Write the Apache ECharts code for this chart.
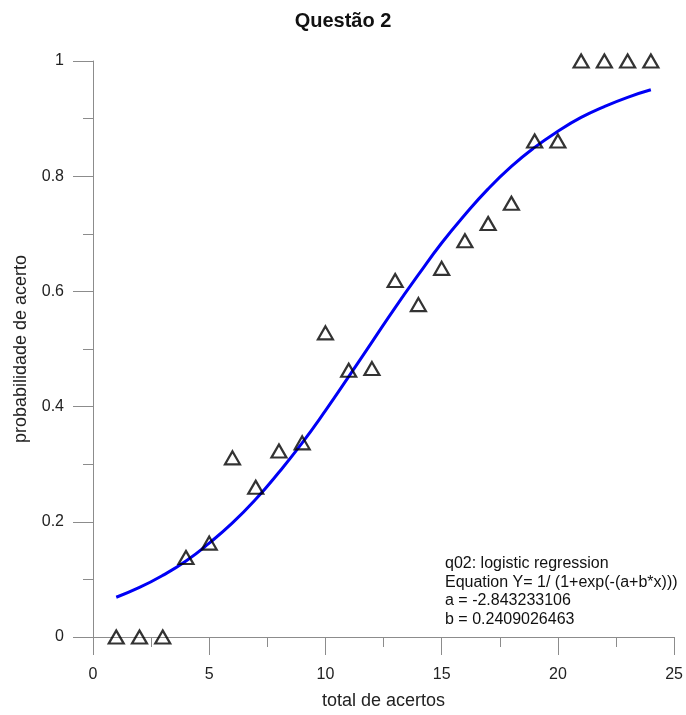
<!DOCTYPE html>
<html>
<head>
<meta charset="utf-8">
<script src="https://cdn.jsdelivr.net/npm/echarts@6/dist/echarts.min.js"></script>
<style>
html,body{margin:0;padding:0;background:#fff;}
#chart{width:686px;height:715px;}
</style>
</head>
<body>
<div id="chart"></div>
<script>
// Observed proportions (triangles)
const obsX = [1,2,3,4,5,6,7,8,9,10,11,12,13,14,15,16,17,18,19,20,21,22,23,24];
const obsY = [0,0,0,0.138,0.163,0.311,0.260,0.323,0.337,0.528,0.463,0.466,0.619,0.577,0.640,0.688,0.718,0.753,0.861,0.861,1,1,1,1];
// Fitted curve values (blue line)
const fitX = [1,2,3,4,5,6,7,8,9,10,11,12,13,14,15,16,17,18,19,20,21,22,23,24];
const fitY = [0.069,0.086,0.107,0.132,0.163,0.198,0.239,0.286,0.337,0.393,0.452,0.512,0.572,0.629,0.684,0.733,0.778,0.817,0.850,0.878,0.902,0.921,0.937,0.950];
const xTicks = [0,5,10,15,20,25];
const yTicks = [0,0.2,0.4,0.6,0.8,1];
const titleText = 'Questão 2';
const xName = 'total de acertos';
const yName = 'probabilidade de acerto';
const noteLines = ['q02: logistic regression','Equation Y= 1/ (1+exp(-(a+b*x)))','a = -2.843233106','b = 0.2409026463'];

const chart = echarts.init(document.getElementById('chart'), null, {renderer:'canvas'});
const font = 'Liberation Sans, Arial, sans-serif';
const axisGray = '#8c8c8c';
chart.setOption({
  backgroundColor:'#fff',
  animation:false,
  title:{text:titleText,left:'center',top:6,textStyle:{fontFamily:font,fontSize:20,fontWeight:'bold',color:'#111'}},
  grid:{left:93,right:8,top:61,bottom:74,containLabel:false},
  xAxis:{
    type:'value',min:xTicks[0],max:xTicks[xTicks.length-1],interval:5,
    name:xName,nameLocation:'middle',nameGap:55,
    nameTextStyle:{fontFamily:font,fontSize:18,color:'#222'},
    axisLine:{show:true,lineStyle:{color:axisGray,width:1}},
    axisTick:{show:true,inside:false,length:18,lineStyle:{color:axisGray}},
    minorTick:{show:true,splitNumber:2,length:10,lineStyle:{color:axisGray}},
    axisLabel:{margin:30,fontFamily:font,fontSize:16,color:'#222'},
    splitLine:{show:false}
  },
  yAxis:{
    type:'value',min:yTicks[0],max:yTicks[yTicks.length-1],interval:0.2,
    name:yName,nameLocation:'middle',nameGap:63,nameRotate:90,
    nameTextStyle:{fontFamily:font,fontSize:18,color:'#222'},
    axisLine:{show:true,lineStyle:{color:axisGray,width:1}},
    axisTick:{show:true,inside:false,length:20,lineStyle:{color:axisGray}},
    minorTick:{show:true,splitNumber:2,length:10,lineStyle:{color:axisGray}},
    axisLabel:{margin:29,fontFamily:font,fontSize:16,color:'#222'},
    splitLine:{show:false}
  },
  graphic:[{
    type:'text',left:445,top:554,
    style:{text:noteLines.join('\n'),fontFamily:font,fontSize:16,lineHeight:18.8,fill:'#111'}
  }],
  series:[
    {
      type:'line',data:fitX.map((x,i)=>[x,fitY[i]]),smooth:true,showSymbol:false,
      lineStyle:{color:'#0000f5',width:3},z:2
    },
    {
      type:'scatter',data:obsX.map((x,i)=>[x,obsY[i]]),symbol:'triangle',symbolSize:[15,13],
      itemStyle:{color:'rgba(255,255,255,0)',borderColor:'#000',borderWidth:2.2},z:3
    }
  ]
});
</script>
</body>
</html>
